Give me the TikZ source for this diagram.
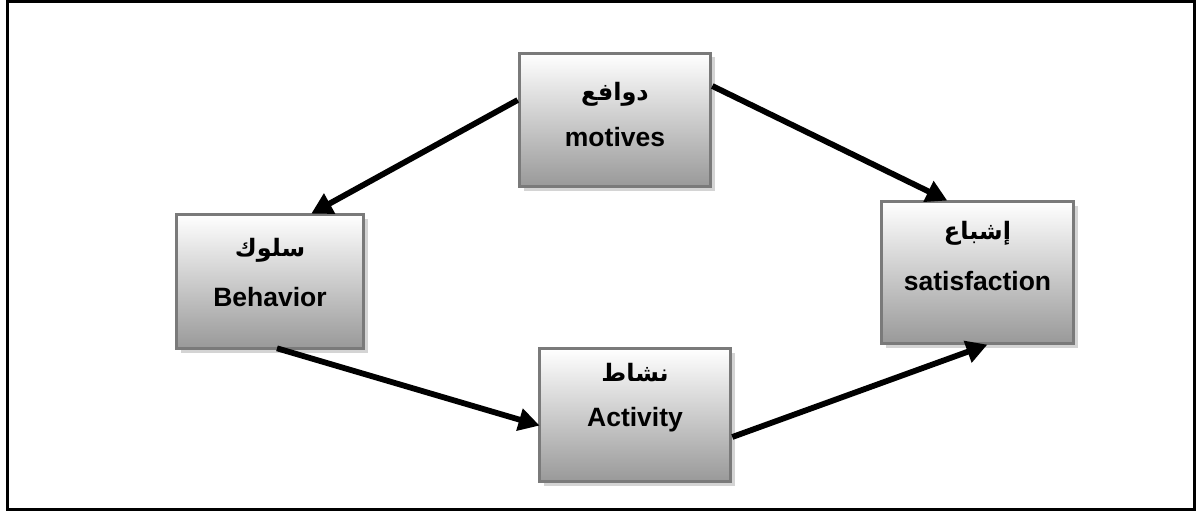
\documentclass[tikz,border=0pt]{standalone}
\usepackage{fontspec}
\setmainfont{Liberation Sans}
\newfontfamily\arabicfont[Script=Arabic]{DejaVu Sans}
\TeXXeTstate=1
\usetikzlibrary{arrows.meta,calc,shadows}
\definecolor{boxedge}{HTML}{7A7A7A}
\definecolor{shadowgray}{HTML}{D4D4D4}
\tikzset{
  stagebox/.style={rectangle, draw=boxedge, line width=3.6pt,
    top color=white, bottom color=black!40, inner sep=0pt,
    drop shadow={shadow xshift=4pt, shadow yshift=-4pt, fill=shadowgray, opacity=1}},
  entext/.style={font=\bfseries\fontsize{26.5}{30}\selectfont, inner sep=0pt},
  artext/.style={font=\arabicfont\bfseries\fontsize{24}{28}\selectfont, inner sep=0pt},
  flow/.style={line width=5.8pt, -{Triangle[length=21pt,width=22pt]}, shorten >=-2pt}
}
\begin{document}
\begin{tikzpicture}[x=1pt,y=-1pt]
\useasboundingbox (0,0) rectangle (1197,511);
\draw[line width=3pt] (7.5,1.5) rectangle (1194.5,509);

% stages of the cycle
\node[stagebox, minimum width=191pt, minimum height=133pt] (mot) at (615,120) {};
\node[stagebox, minimum width=187pt, minimum height=134pt] (beh) at (270,281.5) {};
\node[stagebox, minimum width=192pt, minimum height=142pt] (sat) at (977.5,272.5) {};
\node[stagebox, minimum width=191pt, minimum height=133pt] (act) at (635,415) {};

% labels
\node[artext] (motAr) at ($(mot.center)+(0,-26)$) {\beginR دوافع\endR};
\node[entext] (motEn) at ($(mot.center)+(0,17)$) {motives};
\node[artext] (behAr) at ($(beh.center)+(0,-31)$) {\beginR سلوك\endR};
\node[entext] (behEn) at ($(beh.center)+(0,16)$) {Behavior};
\node[artext] (satAr) at ($(sat.center)+(0,-39)$) {\beginR إشباع\endR};
\node[entext] (satEn) at ($(sat.center)+(0,9)$) {satisfaction};
\node[artext] (actAr) at ($(act.center)+(0,-42)$) {\beginR نشاط\endR};
\node[entext] (actEn) at ($(act.center)+(0,5)$) {Activity};

% connectors
\draw[flow] ($(mot.west)+(0,-20)$) -- ($(beh.north)+(43,0)$);
\draw[flow] ($(mot.east)+(0,-34)$) -- ($(sat.north)+(-32,0)$);
\draw[flow] ($(beh.south)+(7,-2)$) -- ($(act.west)+(0,10)$);
\draw[flow] ($(act.east)+(0,22)$) -- ($(sat.south)+(8,0)$);
\end{tikzpicture}
\end{document}
